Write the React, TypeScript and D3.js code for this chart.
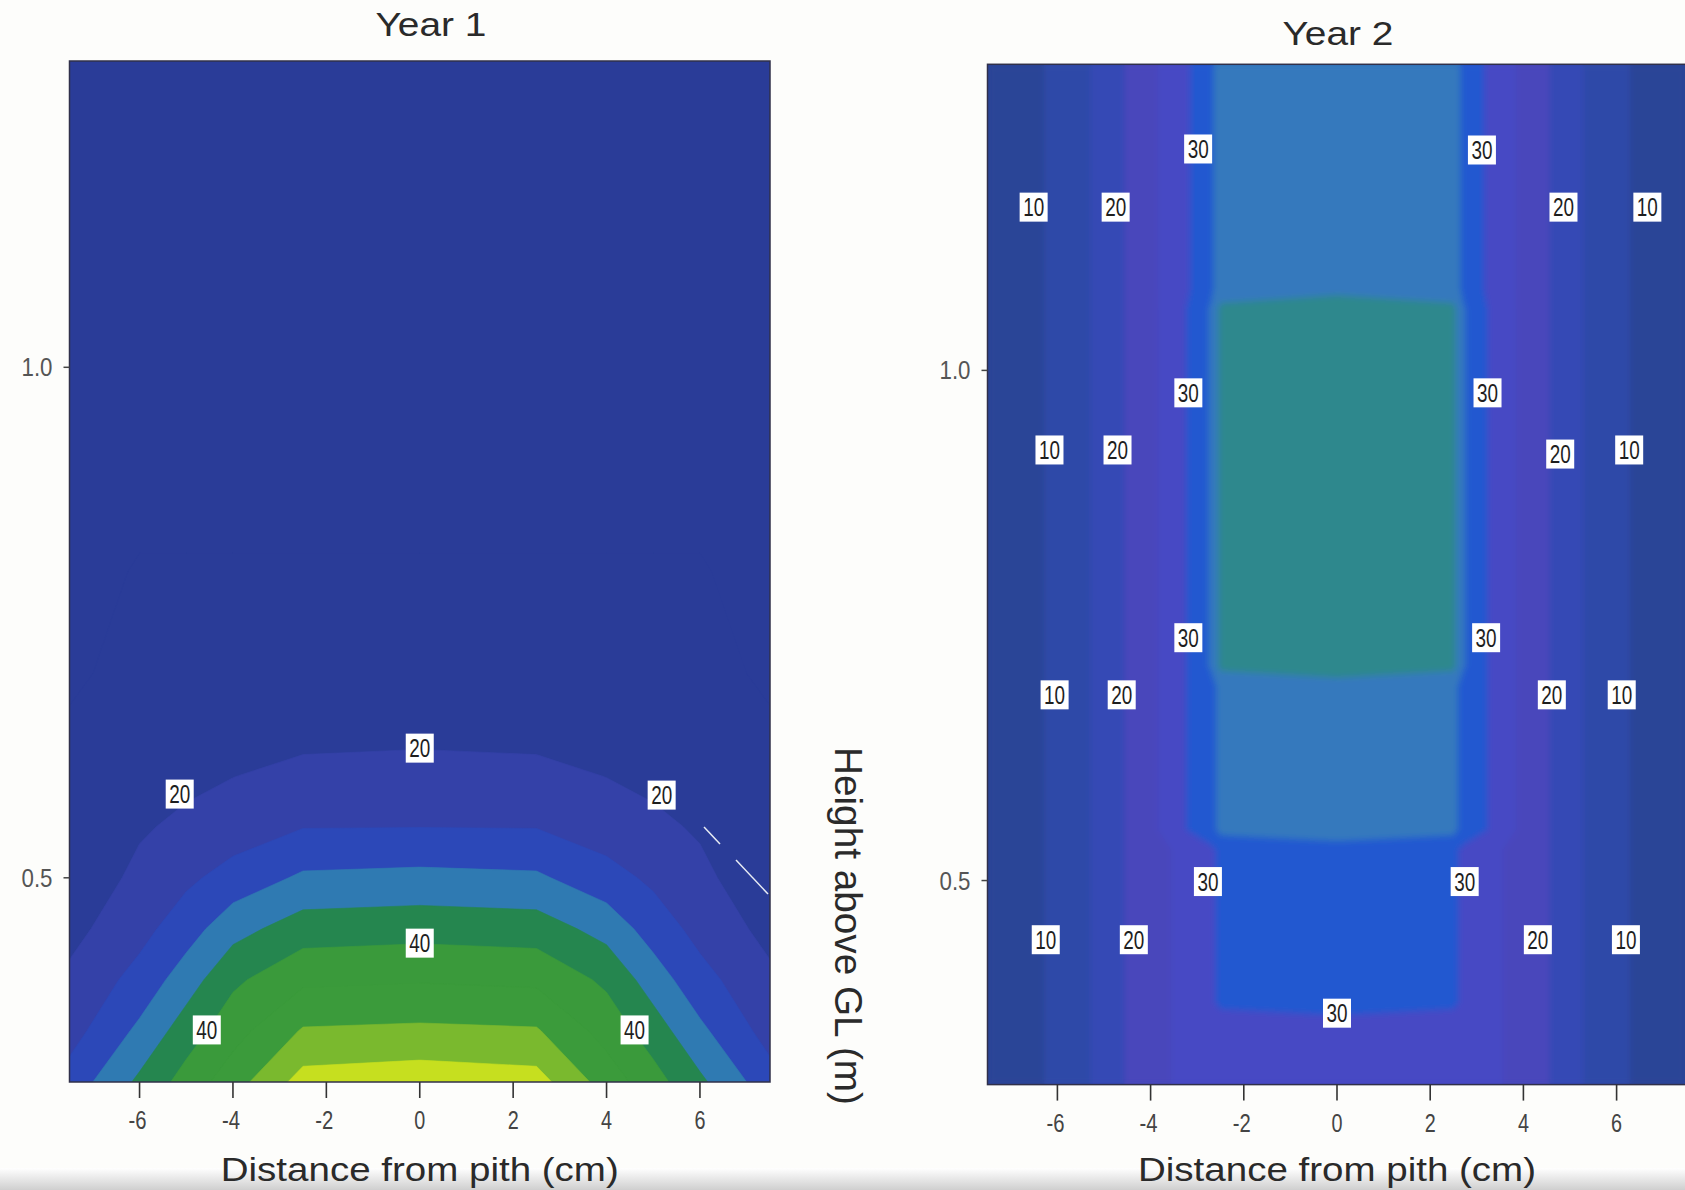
import React from "react";
import * as d3 from "d3";

// ---------------- data ----------------
const X_TICKS = [-6, -4, -2, 0, 2, 4, 6];
const Y_TICKS = [0.5, 1.0];
const X_DOMAIN = [-7.5, 7.5];
const Y_DOMAIN = [0.3, 1.3];

// Year 1 grid (distance from pith, cm  x  height above GL, m)
const YEAR1_X = [-7.5, -6, -5, -4, -2.5, 0, 2.5, 4, 5, 6, 7.5];
const YEAR1_Y = [0.3, 0.35, 0.4, 0.45, 0.5, 0.55, 0.6, 0.65, 0.7, 0.8, 1.0, 1.3];
const YEAR1_VALUES = [
  [27, 36, 42, 47.8, 57, 58, 57, 47.8, 42, 36, 27],
  [23, 31.1, 37.5, 43.1, 50.5, 51, 50.5, 43.1, 37.5, 31.1, 23],
  [21, 26.7, 32.6, 39.0, 44, 44.6, 44, 39.0, 32.6, 26.7, 21],
  [18.5, 23.4, 27.7, 33.2, 37.5, 38.1, 37.5, 33.2, 27.7, 23.4, 18.5],
  [17, 21, 24, 26.9, 30.8, 31.35, 30.8, 26.9, 24, 21, 17],
  [16, 19.5, 20.9, 22.4, 24.8, 24.9, 24.8, 22.4, 20.9, 19.5, 16],
  [15.5, 18, 19, 19.9, 21.2, 21.7, 21.2, 19.9, 19, 18, 15.5],
  [15.3, 17, 17.5, 18, 18.3, 18.4, 18.3, 18, 17.5, 17, 15.3],
  [14.5, 16, 16.5, 17, 17, 17, 17, 17, 16.5, 16, 14.5],
  [14, 15.2, 15.2, 15.2, 15.2, 15.2, 15.2, 15.2, 15.2, 15.2, 14],
  [13, 13, 13, 13, 13, 13, 13, 13, 13, 13, 13],
  [12, 12, 12, 12, 12, 12, 12, 12, 12, 12, 12],
];
const YEAR1_THRESHOLDS = [15, 20, 25, 30, 35, 40, 45, 50, 55];
const YEAR1_COLORS = [
  "#2a3c98", "#2a3c98", "#3441a8", "#2c48b8", "#2f7ab2",
  "#25864f", "#3a9a3b", "#3b9b3b", "#7ab92e", "#c6df1f",
];
const YEAR1_LABELS = [
  { x: 0, y: 0.627, t: "20" },
  { x: -5.14, y: 0.582, t: "20" },
  { x: 5.18, y: 0.581, t: "20" },
  { x: 0, y: 0.436, t: "40" },
  { x: -4.56, y: 0.351, t: "40" },
  { x: 4.6, y: 0.351, t: "40" },
];

// Year 2 grid
const YEAR2_X = [-7.5, -6.5, -5.5, -4.7, -3.9, -3.2, -2.7, -2.5, 0, 2.5, 2.7, 3.2, 3.9, 4.7, 5.5, 6.5, 7.5];
const YEAR2_Y = [0.3, 0.36, 0.38, 0.53, 0.55, 0.69, 0.71, 1.06, 1.08, 1.3];
const YEAR2_VALUES = [
  [7.5, 9.0, 13.5, 19, 24.5, 25.5, 27, 27.5, 28, 27.5, 27, 25.5, 24.5, 19, 13.5, 9.0, 7.5],
  [7.5, 9.0, 13.5, 19, 24.5, 25.5, 27, 27.5, 28, 27.5, 27, 25.5, 24.5, 19, 13.5, 9.0, 7.5],
  [7.5, 9.0, 13.5, 19, 24.5, 25.5, 29, 31, 33, 31, 29, 25.5, 24.5, 19, 13.5, 9.0, 7.5],
  [7.5, 9.0, 13.5, 19, 24.5, 25.5, 29, 31, 33, 31, 29, 25.5, 24.5, 19, 13.5, 9.0, 7.5],
  [7.5, 9.0, 13.5, 19, 24.5, 30.2, 33, 36.5, 37.5, 36.5, 33, 30.2, 24.5, 19, 13.5, 9.0, 7.5],
  [7.5, 9.0, 13.5, 19, 24.5, 30.2, 33, 36.5, 37.5, 36.5, 33, 30.2, 24.5, 19, 13.5, 9.0, 7.5],
  [7.5, 9.0, 13.5, 19, 24.5, 30.2, 35.5, 41, 43, 41, 35.5, 30.2, 24.5, 19, 13.5, 9.0, 7.5],
  [7.5, 9.0, 13.5, 19, 24.5, 30.2, 35.5, 41, 43, 41, 35.5, 30.2, 24.5, 19, 13.5, 9.0, 7.5],
  [7.5, 9.0, 13.5, 19, 24.5, 29.5, 34, 37.5, 38.5, 37.5, 34, 29.5, 24.5, 19, 13.5, 9.0, 7.5],
  [7.5, 9.0, 13.5, 19, 24.5, 29.5, 34, 37.5, 38.5, 37.5, 34, 29.5, 24.5, 19, 13.5, 9.0, 7.5],
];
const YEAR2_THRESHOLDS = [10, 15, 20, 25, 30, 35, 40];
const YEAR2_COLORS = [
  "#2c4497", "#2f49a8", "#3449b5", "#4a46bb", "#4649c4", "#2158d0", "#3479bd", "#2d888d",
];
const YEAR2_LABELS = [
  { x: -6.51, y: 1.16, t: "10" }, { x: -6.17, y: 0.922, t: "10" },
  { x: -6.06, y: 0.682, t: "10" }, { x: -6.25, y: 0.442, t: "10" },
  { x: 6.66, y: 1.16, t: "10" }, { x: 6.27, y: 0.922, t: "10" },
  { x: 6.11, y: 0.682, t: "10" }, { x: 6.2, y: 0.442, t: "10" },
  { x: -4.75, y: 1.16, t: "20" }, { x: -4.71, y: 0.922, t: "20" },
  { x: -4.62, y: 0.682, t: "20" }, { x: -4.36, y: 0.442, t: "20" },
  { x: 4.86, y: 1.16, t: "20" }, { x: 4.79, y: 0.918, t: "20" },
  { x: 4.61, y: 0.682, t: "20" }, { x: 4.31, y: 0.442, t: "20" },
  { x: -2.98, y: 1.217, t: "30" }, { x: -3.19, y: 0.978, t: "30" },
  { x: -3.19, y: 0.738, t: "30" }, { x: -2.77, y: 0.499, t: "30" },
  { x: 3.11, y: 1.216, t: "30" }, { x: 3.23, y: 0.978, t: "30" },
  { x: 3.2, y: 0.738, t: "30" }, { x: 2.74, y: 0.499, t: "30" },
  { x: 0, y: 0.37, t: "30" },
];

const FONT = "'Liberation Sans', Arial, Helvetica, sans-serif";

type Box = { left: number; right: number; top: number; bottom: number };

function ContourPanel(props: {
  id: string;
  box: Box;
  xs: number[];
  ys: number[];
  values: number[][];
  thresholds: number[];
  colors: string[];
  labels: { x: number; y: number; t: string }[];
  title: string;
  titleX: number;
  titleY: number;
  blur: number;
}) {
  const { id, box, xs, ys, values, thresholds, colors, labels, title, titleX, titleY, blur } = props;
  const nx = xs.length;
  const ny = ys.length;
  const flat = values.flat();
  const contours = d3.contours().size([nx, ny]).thresholds(thresholds)(flat);

  const xIdx = d3.scaleLinear().domain(d3.range(nx)).range(xs).clamp(true);
  const yIdx = d3.scaleLinear().domain(d3.range(ny)).range(ys).clamp(true);
  const xScale = d3.scaleLinear().domain(X_DOMAIN).range([box.left, box.right]);
  const yScale = d3.scaleLinear().domain(Y_DOMAIN).range([box.bottom, box.top]);

  const proj = (p: number[]) => [xScale(xIdx(p[0] - 0.5)), yScale(yIdx(p[1] - 0.5))];
  const toPath = (mp: any) =>
    mp.coordinates
      .map((poly: number[][][]) =>
        poly
          .map((ring) => "M" + ring.map((pt) => proj(pt).map((v) => v.toFixed(2)).join(",")).join("L") + "Z")
          .join("")
      )
      .join("");

  const w = box.right - box.left;
  const h = box.bottom - box.top;
  const cx = (box.left + box.right) / 2;

  const fills = (
    <>
      <rect x={box.left} y={box.top} width={w} height={h} fill={colors[0]} />
      {contours.map((c: any, i: number) => (
        <path key={i} d={toPath(c)} fill={colors[i + 1]} fillRule="evenodd" stroke={colors[i + 1]} strokeWidth={0.6} />
      ))}
    </>
  );

  return (
    <g>
      <defs>
        <clipPath id={"clip-" + id}>
          <rect x={box.left} y={box.top} width={w} height={h} />
        </clipPath>
        <filter id={"blur-" + id} x="-5%" y="-5%" width="110%" height="110%">
          <feGaussianBlur stdDeviation={blur} />
        </filter>
      </defs>
      <text x={titleX} y={titleY} textAnchor="middle" fontFamily={FONT} fontSize={34} fill="#2a2a2a"
        textLength={111} lengthAdjust="spacingAndGlyphs">
        {title}
      </text>
      <g clipPath={`url(#clip-${id})`}>
        {fills}
        {blur > 0 ? <g filter={`url(#blur-${id})`}>{fills}</g> : null}
      </g>
      <rect x={box.left} y={box.top} width={w} height={h} fill="none" stroke="#30304a" strokeWidth={1.5} />
      {labels.map((l, i) => {
        const px = xScale(l.x);
        const py = yScale(l.y);
        return (
          <g key={i}>
            <rect x={px - 14} y={py - 14.5} width={28} height={29} fill="#ffffff" />
            <text x={px} y={py + 9} textAnchor="middle" fontFamily={FONT} fontSize={26} fill="#1e1e1e"
              textLength={21} lengthAdjust="spacingAndGlyphs">
              {l.t}
            </text>
          </g>
        );
      })}
      {/* x axis */}
      {X_TICKS.map((t) => {
        const label = String(t);
        const len = label.replace("-", "").length * 11 + (t < 0 ? 7 : 0);
        return (
          <g key={t}>
            <line x1={xScale(t)} x2={xScale(t)} y1={box.bottom} y2={box.bottom + 16} stroke="#333" strokeWidth={1.6} />
            <text x={xScale(t) - (t < 0 ? 2 : 0)} y={box.bottom + 47} textAnchor="middle" fontFamily={FONT}
              fontSize={26} fill="#444" textLength={len} lengthAdjust="spacingAndGlyphs">
              {label}
            </text>
          </g>
        );
      })}
      {/* y axis */}
      {Y_TICKS.map((t) => (
        <g key={t}>
          <line x1={box.left - 6} x2={box.left} y1={yScale(t)} y2={yScale(t)} stroke="#444" strokeWidth={1.5} />
          <text x={box.left - 17} y={yScale(t) + 9} textAnchor="end" fontFamily={FONT} fontSize={25}
            fill="#555" textLength={31} lengthAdjust="spacingAndGlyphs">
            {t.toFixed(1)}
          </text>
        </g>
      ))}
      <text x={cx} y={1181} textAnchor="middle" fontFamily={FONT} fontSize={34} fill="#2a2a2a"
        textLength={398} lengthAdjust="spacingAndGlyphs">
        Distance from pith (cm)
      </text>
    </g>
  );
}

export default function App() {
  const box1: Box = { left: 69.5, right: 770, top: 61, bottom: 1082 };
  const box2: Box = { left: 987.5, right: 1686.5, top: 64.3, bottom: 1084.6 };
  return (
    <svg width={1685} height={1190} viewBox="0 0 1685 1190"
      style={{ position: "absolute", left: 0, top: 0, background: "#fff" }}>
      <defs>
        <linearGradient id="scanShade" x1="0" y1="0" x2="0" y2="1">
          <stop offset="0" stopColor="#ffffff" />
          <stop offset="1" stopColor="#cfcfcf" />
        </linearGradient>
      </defs>
      <rect x={0} y={0} width={1685} height={1190} fill="#fdfdfb" />
      <rect x={0} y={1168} width={1685} height={22} fill="url(#scanShade)" />
      <ContourPanel id="y1" box={box1} xs={YEAR1_X} ys={YEAR1_Y} values={YEAR1_VALUES}
        thresholds={YEAR1_THRESHOLDS} colors={YEAR1_COLORS} labels={YEAR1_LABELS}
        title="Year 1" titleX={431} titleY={36} blur={0} />
      <ContourPanel id="y2" box={box2} xs={YEAR2_X} ys={YEAR2_Y} values={YEAR2_VALUES}
        thresholds={YEAR2_THRESHOLDS} colors={YEAR2_COLORS} labels={YEAR2_LABELS}
        title="Year 2" titleX={1338} titleY={45} blur={3} />
      <line x1={704} y1={827} x2={720} y2={844} stroke="#e8ecf4" strokeWidth={1.5} />
      <line x1={736} y1={860} x2={768} y2={894} stroke="#e8ecf4" strokeWidth={1.5} />
      <text transform="translate(835,747) rotate(90)" x={0} y={0} fontFamily={FONT} fontSize={38}
        fill="#2a2a2a" textLength={358} lengthAdjust="spacingAndGlyphs">
        Height above GL (m)
      </text>
    </svg>
  );
}
